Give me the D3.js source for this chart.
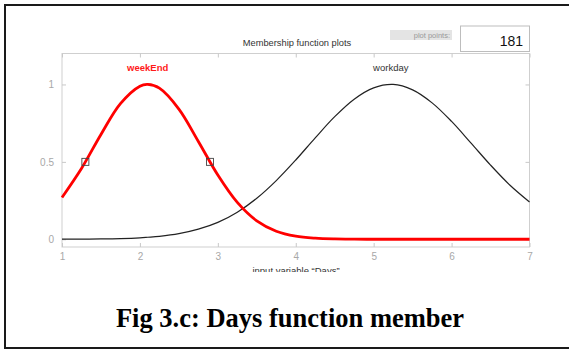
<!DOCTYPE html>
<html>
<head>
<meta charset="utf-8">
<script src="https://cdn.jsdelivr.net/npm/d3@7"></script>
<style>
  body { margin: 0; background: #fff; }
  svg { display: block; font-family: "Liberation Sans", Arial, sans-serif; }
</style>
</head>
<body>
<svg width="569" height="350"></svg>
<script>
// sample positions on the "Days" axis
const days = [1, 1.25, 1.5, 1.75, 2, 2.1, 2.25, 2.5, 2.75, 3, 3.25, 3.5, 3.75, 4,
  4.25, 4.5, 4.75, 5, 5.25, 5.5, 5.75, 6, 6.25, 6.5, 6.75, 7];
// membership values
const weekEnd = [0.27, 0.457, 0.677, 0.876, 0.989, 1, 0.976, 0.841, 0.632, 0.415,
  0.238, 0.119, 0.052, 0.02, 0.007, 0.002, 0.0005, 0, 0, 0, 0, 0, 0, 0, 0, 0];
const workday = [0.0003, 0.0008, 0.002, 0.0045, 0.0095, 0.013, 0.019, 0.036, 0.065, 0.109,
  0.175, 0.265, 0.379, 0.512, 0.655, 0.792, 0.905, 0.978, 1, 0.965, 0.881, 0.761,
  0.621, 0.479, 0.349, 0.241];
const mfNames = ["weekEnd", "workday"];
const mfPeaks = [2.1, 5.22];
const markerX = [1.3, 2.9];
const markerY = [0.5, 0.5];
const xTicks = [1, 2, 3, 4, 5, 6, 7];
const yTicks = [0, 0.5, 1];
const yTickLabels = ["0", "0.5", "1"];
const plotPoints = "181";

const svg = d3.select("svg");
const m = { left: 62, right: 529.5, top: 53.5, bottom: 247 };

const x = d3.scaleLinear().domain([1, 7]).range([m.left, m.right]);
const y = d3.scaleLinear().domain([-0.05, 1.2]).range([m.bottom, m.top]);

// outer frame (right edge runs off the picture)
svg.append("path")
  .attr("d", "M600,5 H5 V348 H600")
  .attr("fill", "none")
  .attr("stroke", "#1a1a1a")
  .attr("stroke-width", 2);

// plot box
svg.append("rect")
  .attr("x", m.left).attr("y", m.top)
  .attr("width", m.right - m.left).attr("height", m.bottom - m.top)
  .attr("fill", "#fff").attr("stroke", "#cfcfcf");

const tickLen = 4;
const axStyle = (g) => {
  g.select(".domain").remove();
  g.selectAll("line").attr("stroke", "#c8c8c8");
  g.selectAll("text").attr("fill", "#a8a8a8").style("font-size", "10px");
};

svg.append("g")
  .attr("transform", `translate(0,${m.bottom})`)
  .call(d3.axisBottom(x).tickValues(xTicks).tickSizeInner(-tickLen).tickSizeOuter(0).tickPadding(6).tickFormat(d3.format("d")))
  .call(axStyle);
svg.append("g")
  .attr("transform", `translate(0,${m.top})`)
  .call(d3.axisTop(x).tickValues(xTicks).tickSizeInner(-tickLen).tickSizeOuter(0).tickFormat(""))
  .call(axStyle);
svg.append("g")
  .attr("transform", `translate(${m.left},0)`)
  .call(d3.axisLeft(y).tickValues(yTicks).tickSizeInner(-tickLen).tickSizeOuter(0).tickPadding(8)
    .tickFormat((d, i) => yTickLabels[i]))
  .call(axStyle);
svg.append("g")
  .attr("transform", `translate(${m.right},0)`)
  .call(d3.axisRight(y).tickValues(yTicks).tickSizeInner(-tickLen).tickSizeOuter(0).tickFormat(""))
  .call(axStyle);

const line = d3.line()
  .x((d, i) => x(days[i]))
  .y((d) => y(d))
  .curve(d3.curveCatmullRom);

const plot = svg.append("g");
plot.append("path")
  .datum(workday)
  .attr("d", line)
  .attr("fill", "none")
  .attr("stroke", "#222")
  .attr("stroke-width", 1.2);
plot.append("path")
  .datum(weekEnd)
  .attr("d", line)
  .attr("fill", "none")
  .attr("stroke", "#ff0000")
  .attr("stroke-width", 2.8);

plot.selectAll(".marker")
  .data(markerX)
  .enter()
  .append("rect")
  .attr("class", "marker")
  .attr("x", (d) => x(d) - 3.5)
  .attr("y", (d, i) => y(markerY[i]) - 3.5)
  .attr("width", 7).attr("height", 7)
  .attr("fill", "none")
  .attr("stroke", "#444")
  .attr("stroke-width", 0.9);

// membership function names
svg.selectAll(".mflabel")
  .data(mfNames)
  .enter()
  .append("text")
  .attr("x", (d, i) => x(mfPeaks[i]))
  .attr("y", y(1.085))
  .attr("text-anchor", "middle")
  .style("font-size", "9.5px")
  .style("font-weight", (d, i) => (i === 0 ? "bold" : "normal"))
  .attr("fill", (d, i) => (i === 0 ? "#ff1a1a" : "#333"))
  .text((d) => d);

svg.append("text")
  .attr("x", 297).attr("y", 46)
  .attr("text-anchor", "middle")
  .style("font-size", "9.3px")
  .attr("fill", "#333")
  .text("Membership function plots");

// plot points box
svg.append("rect")
  .attr("x", 390).attr("y", 30).attr("width", 62).attr("height", 10)
  .attr("fill", "#e4e4e4");
svg.append("text")
  .attr("x", 450).attr("y", 38)
  .attr("text-anchor", "end")
  .style("font-size", "7.5px")
  .attr("fill", "#999")
  .text("plot points:");
svg.append("rect")
  .attr("x", 460.5).attr("y", 26).attr("width", 69).attr("height", 25.5)
  .attr("fill", "#fff").attr("stroke", "#bdbdbd");
svg.append("text")
  .attr("x", 523).attr("y", 46)
  .attr("text-anchor", "end")
  .style("font-size", "14px")
  .attr("fill", "#111")
  .text(plotPoints);

// x label, cut off at its bottom like in the figure
svg.append("clipPath").attr("id", "xlabClip")
  .append("rect").attr("x", 0).attr("y", 0).attr("width", 569).attr("height", 272);
svg.append("text")
  .attr("clip-path", "url(#xlabClip)")
  .attr("x", 296).attr("y", 274)
  .attr("text-anchor", "middle")
  .style("font-size", "9.5px")
  .attr("fill", "#333")
  .text("input variable \u201cDays\u201d");

svg.append("text")
  .attr("x", 290).attr("y", 327)
  .attr("text-anchor", "middle")
  .style("font-family", "'Liberation Serif', 'Times New Roman', serif")
  .style("font-weight", "bold")
  .style("font-size", "26.5px")
  .attr("fill", "#000")
  .text("Fig 3.c: Days function member");
</script>
</body>
</html>
